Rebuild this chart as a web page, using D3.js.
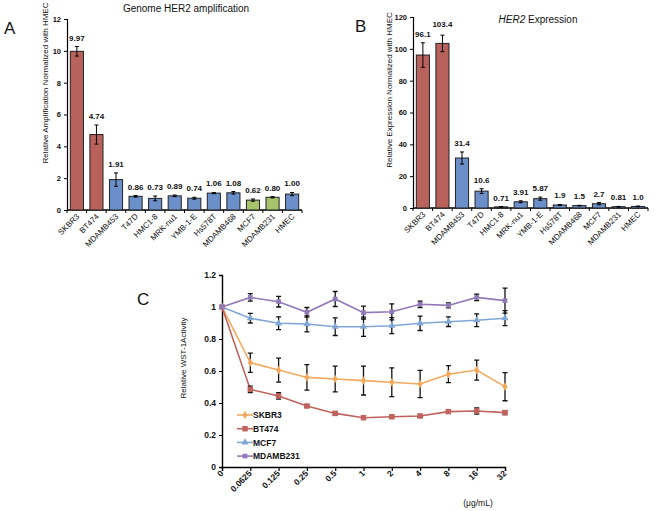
<!DOCTYPE html>
<html><head><meta charset="utf-8">
<script src="https://cdn.jsdelivr.net/npm/d3@7"></script>
<style>
body{margin:0;background:#fff;}
text{font-family:"Liberation Sans",Arial,sans-serif;fill:#111;}
</style></head>
<body><svg id="c" width="661" height="511"></svg>
<script>
// ---------- DATA ----------
const cellLines = ["SKBR3","BT474","MDAMB453","T47D","HMC1-8","MRK-nu1","YMB-1-E","Hs578T","MDAMB468","MCF7","MDAMB231","HMEC"];
const groupA = ["r","r","b","b","b","b","b","b","b","g","g","b"];
const groupB = ["r","r","b","b","b","b","b","b","b","b","b","b"];
const ampValues = [9.97,4.74,1.91,0.86,0.73,0.89,0.74,1.06,1.08,0.62,0.80,1.00];
const ampErrors = [0.3,0.6,0.42,0.05,0.15,0.05,0.06,0.04,0.08,0.07,0.04,0.1];
const ampLabels = ["9.97","4.74","1.91","0.86","0.73","0.89","0.74","1.06","1.08","0.62","0.80","1.00"];
const ampTicks = [0,2,4,6,8,10,12];
const exprValues = [96.1,103.4,31.4,10.6,0.71,3.91,5.87,1.9,1.5,2.7,0.81,1.0];
const exprErrors = [7.7,5.2,3.8,1.5,0.2,0.6,1.0,0.3,0.2,0.7,0.2,0.2];
const exprLabels = ["96.1","103.4","31.4","10.6","0.71","3.91","5.87","1.9","1.5","2.7","0.81","1.0"];
const exprTicks = [0,20,40,60,80,100,120];
const doses = ["0","0.0625","0.125","0.25","0.5","1","2","4","8","16","32"];
const seriesNames = ["SKBR3","BT474","MCF7","MDAMB231"];
const skbr3 = [1,0.652,0.606,0.56,0.55,0.54,0.53,0.519,0.58,0.606,0.502];
const skbr3Err = [0,0.06,0.075,0.08,0.08,0.09,0.09,0.085,0.053,0.0625,0.088];
const bt474 = [1,0.485,0.444,0.381,0.335,0.308,0.314,0.319,0.346,0.35,0.34];
const bt474Err = [0,0.02,0.02,0.008,0.008,0.008,0.008,0.008,0.01,0.02,0.012];
const mcf7 = [1,0.93,0.898,0.894,0.877,0.877,0.883,0.898,0.908,0.917,0.93];
const mcf7Err = [0,0.03,0.04,0.05,0.055,0.06,0.05,0.045,0.03,0.04,0.047];
const mdamb231 = [1,1.06,1.033,0.967,1.05,0.965,0.97,1.017,1.01,1.06,1.04];
const mdamb231Err = [0,0.023,0.033,0.03,0.047,0.04,0.05,0.02,0.015,0.02,0.078];
const wstTicks = [0,0.2,0.4,0.6,0.8,1,1.2];

// ---------- STYLE ----------
const barColors = {r:"#b9625c", b:"#6b90c9", g:"#a6c36b"};
const lineColors = ["#f3a95c","#c0625d","#80a6d7","#927ab8"];

const svg = d3.select("#c");

function barPanel(o){
  const g = svg.append("g");
  const x = d3.scaleBand().domain(cellLines).range(o.xr).paddingInner(0.33).paddingOuter(0.17);
  const y = d3.scaleLinear().domain([0,o.max]).range(o.yr);
  const ya = d3.axisLeft(y).tickValues(o.ticks).tickSize(3).tickFormat(d3.format("d"));
  const yg = g.append("g").attr("transform",`translate(${o.xr[0]},0)`).call(ya);
  yg.select(".domain").attr("stroke","#000").attr("stroke-width",1.2);
  yg.selectAll(".tick line").attr("stroke","#000");
  yg.selectAll("text").attr("font-size",7.5).attr("font-weight","bold").attr("fill","#222");
  g.append("line").attr("x1",o.xr[0]).attr("x2",o.xr[1]).attr("y1",o.yr[0]).attr("y2",o.yr[0]).attr("stroke","#000").attr("stroke-width",1.4);
  g.selectAll(".xt").data(d3.range(cellLines.length+1)).join("line")
    .attr("x1",i=>o.xr[0]+i*(o.xr[1]-o.xr[0])/cellLines.length).attr("x2",i=>o.xr[0]+i*(o.xr[1]-o.xr[0])/cellLines.length)
    .attr("y1",o.yr[0]).attr("y2",o.yr[0]+3).attr("stroke","#000");
  g.selectAll(".bar").data(cellLines).join("rect")
    .attr("x",d=>x(d)).attr("width",x.bandwidth())
    .attr("y",(d,i)=>y(o.values[i])).attr("height",(d,i)=>y(0)-y(o.values[i]))
    .attr("fill",(d,i)=>barColors[o.groups[i]]).attr("stroke","#222").attr("stroke-width",1);
  const cx = d=>x(d)+x.bandwidth()/2;
  g.selectAll(".err").data(cellLines).join("path")
    .attr("d",(d,i)=>{const t=y(o.values[i]+o.errors[i]), b=y(Math.max(0,o.values[i]-o.errors[i])), c=cx(d);
      return `M${c},${t}V${b}M${c-2},${t}H${c+2}M${c-2},${b}H${c+2}`;})
    .attr("stroke","#000").attr("stroke-width",1).attr("fill","none");
  g.selectAll(".vl").data(cellLines).join("text")
    .attr("x",cx).attr("y",(d,i)=>{let v=y(o.values[i]+o.errors[i])-6; if(o.labelTop!=null && v<o.labelTop+8) v=o.labelTop; return v;})
    .attr("text-anchor","middle").attr("font-size",8).attr("font-weight","bold").attr("fill","#222")
    .text((d,i)=>o.labels[i]);
  g.selectAll(".cl").data(cellLines).join("text")
    .attr("transform",d=>`translate(${cx(d)+3},${o.yr[0]+7}) rotate(-45)`)
    .attr("text-anchor","end").attr("font-size",8).attr("fill","#222").text(d=>d);
  g.append("text").attr("transform",`translate(${o.ylx},${o.yly}) rotate(-90)`)
    .attr("text-anchor","middle").attr("font-size",8).attr("fill","#222").text(o.ylabel);
  return g;
}

barPanel({xr:[67,302], yr:[210,19], max:12, ticks:ampTicks, values:ampValues, errors:ampErrors, labels:ampLabels, groups:groupA,
  ylabel:"Relative Amplification Normalized with HMEC", ylx:48, yly:83});
barPanel({xr:[413,648], yr:[208,17], max:120, ticks:exprTicks, values:exprValues, errors:exprErrors, labels:exprLabels, groups:groupB,
  ylabel:"Relative Expression Normalized with HMEC", ylx:392, yly:90, labelTop:27});

svg.append("text").attr("x",186).attr("y",12).attr("text-anchor","middle").attr("font-size",10).text("Genome HER2 amplification");
const t2 = svg.append("text").attr("x",538).attr("y",23).attr("text-anchor","middle").attr("font-size",10);
t2.append("tspan").attr("font-style","italic").text("HER2");
t2.append("tspan").text(" Expression");
svg.append("text").attr("x",4).attr("y",34).attr("font-size",17).text("A");
svg.append("text").attr("x",355).attr("y",32).attr("font-size",17).text("B");
svg.append("text").attr("x",137).attr("y",305).attr("font-size",17).text("C");

// ---------- PANEL C ----------
const gc = svg.append("g");
const xc = d3.scalePoint().domain(doses).range([222,505]);
const yc = d3.scaleLinear().domain([0,1.2]).range([467,275]);
const yca = d3.axisLeft(yc).tickValues(wstTicks).tickSize(3).tickFormat(d=>d3.format("~g")(d));
const ycg = gc.append("g").attr("transform","translate(222,0)").call(yca);
ycg.select(".domain").attr("stroke","#000").attr("stroke-width",1.4);
ycg.selectAll(".tick line").attr("stroke","#000");
ycg.selectAll("text").attr("font-size",8.5).attr("font-weight","bold").attr("fill","#111");
const xca = d3.axisBottom(xc).tickSize(4).tickFormat("");
const xcg = gc.append("g").attr("transform","translate(0,467)").call(xca);
xcg.select(".domain").attr("stroke","#000").attr("stroke-width",1.4);
xcg.selectAll(".tick line").attr("stroke","#000").attr("stroke-width",1.2);
gc.selectAll(".dl").data(doses).join("text")
  .attr("transform",d=>`translate(${xc(d)+2},${474}) rotate(-45)`)
  .attr("text-anchor","end").attr("font-size",8.5).attr("font-weight","bold").attr("fill","#111").text(d=>d);
gc.append("text").attr("x",478).attr("y",506).attr("text-anchor","middle").attr("font-size",8.5).attr("fill","#111").text("(μg/mL)");
gc.append("text").attr("transform","translate(186,358) rotate(-90)").attr("text-anchor","middle").attr("font-size",8).attr("fill","#111").text("Relative WST-1Activity");

const series = [[skbr3,skbr3Err],[bt474,bt474Err],[mcf7,mcf7Err],[mdamb231,mdamb231Err]];
const symbols = [d3.symbolDiamond, d3.symbolSquare, d3.symbolTriangle, d3.symbolSquare];
const symSizes = [22,30,22,22];
const line = d3.line().x((d,i)=>xc(doses[i])).y(d=>yc(d));
series.forEach(([vals,errs],si)=>{
  gc.append("path").datum(vals).attr("d",line).attr("fill","none").attr("stroke",lineColors[si]).attr("stroke-width",1.6);
});
series.forEach(([vals,errs],si)=>{
  gc.selectAll(null).data(vals).join("path")
    .attr("d",(v,i)=>{ if(!errs[i]) return null; const c=xc(doses[i]), t=yc(v+errs[i]), b=yc(v-errs[i]);
      return `M${c},${t}V${b}M${c-2.5},${t}H${c+2.5}M${c-2.5},${b}H${c+2.5}`;})
    .attr("stroke","#111").attr("stroke-width",1.3).attr("fill","none");
});
series.forEach(([vals,errs],si)=>{
  gc.selectAll(null).data(vals).join("path")
    .attr("transform",(v,i)=>`translate(${xc(doses[i])},${yc(v)})`)
    .attr("d",d3.symbol().type(symbols[si]).size(symSizes[si])).attr("fill",lineColors[si]);
});
const lg = gc.append("g");
seriesNames.forEach((n,i)=>{
  const yy = 415 + i*13.7;
  lg.append("line").attr("x1",237).attr("x2",253).attr("y1",yy).attr("y2",yy).attr("stroke",lineColors[i]).attr("stroke-width",1.6);
  lg.append("path").attr("transform",`translate(245,${yy})`).attr("d",d3.symbol().type(symbols[i]).size(symSizes[i])).attr("fill",lineColors[i]);
  lg.append("text").attr("x",253).attr("y",yy+3.3).attr("font-size",8.5).attr("font-weight","bold").attr("fill","#111").text(n);
});
</script></body></html>
